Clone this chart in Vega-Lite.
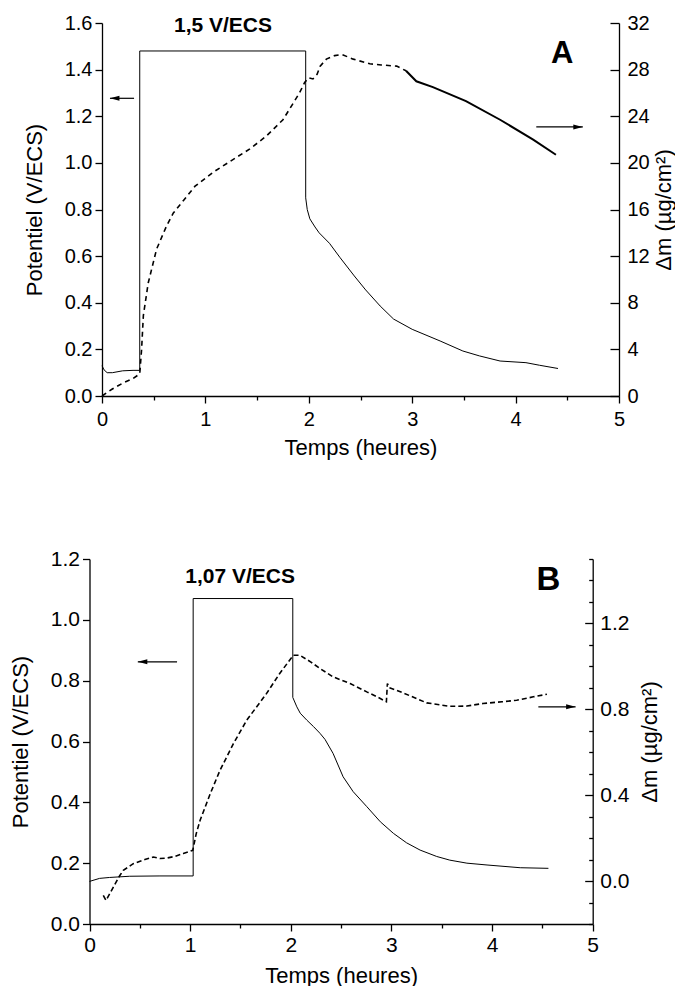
{
  "$schema": "https://vega.github.io/schema/vega-lite/v6.json",
  "padding": {"left": 9, "top": 13, "right": 0, "bottom": 0},
  "spacing": 90,
  "config": {
    "view": {"stroke": null},
    "font": "Liberation Sans",
    "axis": {"grid": false, "domainColor": "#000", "tickColor": "#000", "labelColor": "#000", "titleColor": "#000", "labelFont": "Liberation Sans", "titleFont": "Liberation Sans", "titleFontWeight": "normal", "domainWidth": 1.3, "tickWidth": 1.3, "labelOverlap": false, "labelFlush": false}
  },
  "datasets": {
    "A_pot": [
      {"i": 0, "t": 0, "v": 0.13}, {"i": 1, "t": 0.02, "v": 0.112}, {"i": 2, "t": 0.05, "v": 0.1}, {"i": 3, "t": 0.1, "v": 0.1},
      {"i": 4, "t": 0.2, "v": 0.108}, {"i": 5, "t": 0.3, "v": 0.11}, {"i": 6, "t": 0.365, "v": 0.11}, {"i": 7, "t": 0.365, "v": 1.48},
      {"i": 8, "t": 1.97, "v": 1.48}, {"i": 9, "t": 1.97, "v": 0.85}, {"i": 10, "t": 1.985, "v": 0.8}, {"i": 11, "t": 2.01, "v": 0.76},
      {"i": 12, "t": 2.06, "v": 0.725}, {"i": 13, "t": 2.1, "v": 0.7}, {"i": 14, "t": 2.2, "v": 0.655}, {"i": 15, "t": 2.3, "v": 0.595},
      {"i": 16, "t": 2.44, "v": 0.515}, {"i": 17, "t": 2.55, "v": 0.455}, {"i": 18, "t": 2.69, "v": 0.386}, {"i": 19, "t": 2.82, "v": 0.33},
      {"i": 20, "t": 3.0, "v": 0.286}, {"i": 21, "t": 3.27, "v": 0.236}, {"i": 22, "t": 3.49, "v": 0.193}, {"i": 23, "t": 3.65, "v": 0.172},
      {"i": 24, "t": 3.85, "v": 0.15}, {"i": 25, "t": 4.1, "v": 0.143}, {"i": 26, "t": 4.23, "v": 0.132}, {"i": 27, "t": 4.41, "v": 0.118}
    ],
    "A_mass_dash": [
      {"t": 0, "m": 0}, {"t": 0.1, "m": 0.6}, {"t": 0.2, "m": 1.1}, {"t": 0.3, "m": 1.5}, {"t": 0.365, "m": 1.9},
      {"t": 0.383, "m": 4.0}, {"t": 0.4, "m": 6.9}, {"t": 0.447, "m": 9.7}, {"t": 0.528, "m": 12.6}, {"t": 0.625, "m": 14.6},
      {"t": 0.69, "m": 15.7}, {"t": 0.79, "m": 16.8}, {"t": 0.9, "m": 18.0}, {"t": 1.075, "m": 19.2}, {"t": 1.27, "m": 20.3},
      {"t": 1.43, "m": 21.2}, {"t": 1.59, "m": 22.3}, {"t": 1.75, "m": 23.7}, {"t": 1.91, "m": 26.0}, {"t": 1.96, "m": 26.9},
      {"t": 2.0, "m": 27.3}, {"t": 2.04, "m": 27.2}, {"t": 2.08, "m": 27.6}, {"t": 2.11, "m": 28.3}, {"t": 2.17, "m": 28.9},
      {"t": 2.25, "m": 29.2}, {"t": 2.32, "m": 29.3}, {"t": 2.43, "m": 28.9}, {"t": 2.59, "m": 28.5}, {"t": 2.7, "m": 28.4},
      {"t": 2.85, "m": 28.3}, {"t": 2.94, "m": 27.9}
    ],
    "A_mass_solid": [
      {"t": 2.94, "m": 27.9}, {"t": 3.04, "m": 27.0}, {"t": 3.2, "m": 26.5}, {"t": 3.52, "m": 25.3},
      {"t": 3.85, "m": 23.7}, {"t": 4.17, "m": 22.0}, {"t": 4.39, "m": 20.7}
    ],
    "B_pot": [
      {"i": 0, "t": 0, "v": 0.14}, {"i": 1, "t": 0.1, "v": 0.15}, {"i": 2, "t": 0.2, "v": 0.153}, {"i": 3, "t": 0.4, "v": 0.157},
      {"i": 4, "t": 0.7, "v": 0.158}, {"i": 5, "t": 1.03, "v": 0.158}, {"i": 6, "t": 1.03, "v": 1.07}, {"i": 7, "t": 2.02, "v": 1.07},
      {"i": 8, "t": 2.02, "v": 0.745}, {"i": 9, "t": 2.06, "v": 0.714}, {"i": 10, "t": 2.094, "v": 0.693}, {"i": 11, "t": 2.16, "v": 0.67},
      {"i": 12, "t": 2.226, "v": 0.649}, {"i": 13, "t": 2.29, "v": 0.627}, {"i": 14, "t": 2.34, "v": 0.607}, {"i": 15, "t": 2.42, "v": 0.561},
      {"i": 16, "t": 2.52, "v": 0.484}, {"i": 17, "t": 2.62, "v": 0.435}, {"i": 18, "t": 2.755, "v": 0.386}, {"i": 19, "t": 2.89, "v": 0.336},
      {"i": 20, "t": 3.02, "v": 0.298}, {"i": 21, "t": 3.15, "v": 0.267}, {"i": 22, "t": 3.285, "v": 0.243}, {"i": 23, "t": 3.45, "v": 0.222},
      {"i": 24, "t": 3.58, "v": 0.21}, {"i": 25, "t": 3.75, "v": 0.2}, {"i": 26, "t": 3.95, "v": 0.194}, {"i": 27, "t": 4.28, "v": 0.185},
      {"i": 28, "t": 4.56, "v": 0.183}
    ],
    "B_mass": [
      {"t": 0.137, "m": -0.067}, {"t": 0.164, "m": -0.09}, {"t": 0.2, "m": -0.06}, {"t": 0.237, "m": -0.028}, {"t": 0.3, "m": 0.025},
      {"t": 0.336, "m": 0.05}, {"t": 0.435, "m": 0.081}, {"t": 0.55, "m": 0.1}, {"t": 0.634, "m": 0.112}, {"t": 0.7, "m": 0.105},
      {"t": 0.766, "m": 0.107}, {"t": 0.85, "m": 0.115}, {"t": 0.932, "m": 0.128}, {"t": 1.026, "m": 0.143}, {"t": 1.06, "m": 0.22},
      {"t": 1.099, "m": 0.283}, {"t": 1.2, "m": 0.407}, {"t": 1.297, "m": 0.516}, {"t": 1.43, "m": 0.64}, {"t": 1.562, "m": 0.749},
      {"t": 1.76, "m": 0.874}, {"t": 1.89, "m": 0.967}, {"t": 2.026, "m": 1.052}, {"t": 2.09, "m": 1.052}, {"t": 2.2, "m": 1.02},
      {"t": 2.29, "m": 0.99}, {"t": 2.42, "m": 0.951}, {"t": 2.59, "m": 0.92}, {"t": 2.755, "m": 0.881}, {"t": 2.85, "m": 0.86},
      {"t": 2.93, "m": 0.84}, {"t": 2.95, "m": 0.835}, {"t": 2.96, "m": 0.92}, {"t": 2.98, "m": 0.9}, {"t": 3.05, "m": 0.889},
      {"t": 3.2, "m": 0.86}, {"t": 3.35, "m": 0.83}, {"t": 3.58, "m": 0.814}, {"t": 3.75, "m": 0.815}, {"t": 3.91, "m": 0.827},
      {"t": 4.1, "m": 0.835}, {"t": 4.245, "m": 0.842}, {"t": 4.41, "m": 0.858}, {"t": 4.545, "m": 0.87}
    ],
    "A_arrows": [
      {"t1": 0.077, "t2": 0.31, "head": 0.077, "v": 1.277, "dir": "left"},
      {"t1": 4.2, "t2": 4.65, "head": 4.65, "v": 1.154, "dir": "right"}
    ],
    "B_arrows": [
      {"t1": 0.48, "t2": 0.87, "head": 0.48, "v": 0.862, "dir": "left"},
      {"t1": 4.46, "t2": 4.83, "head": 4.83, "v": 0.714, "dir": "right"}
    ]
  },
  "vconcat": [
    {
      "width": 517,
      "height": 373,
      "resolve": {"scale": {"y": "independent"}},
      "layer": [
        {
          "layer": [
            {
              "data": {"name": "A_pot"},
              "mark": {"type": "line", "strokeWidth": 1, "color": "#000"},
              "encoding": {
                "x": {"field": "t", "type": "quantitative", "scale": {"domain": [0, 5], "nice": false},
                  "axis": {"title": "Temps (heures)", "values": [0, 0.5, 1, 1.5, 2, 2.5, 3, 3.5, 4, 4.5, 5], "format": "~g",
                    "labelExpr": "datum.value % 1 === 0 ? datum.label : ''",
                    "tickSize": {"condition": {"test": "datum.value % 1 !== 0", "value": 4}, "value": 7},
                    "labelFontSize": 20, "titleFontSize": 22, "labelPadding": 6, "titlePadding": 8}},
                "y": {"field": "v", "type": "quantitative", "scale": {"domain": [0, 1.6], "nice": false},
                  "axis": {"title": "Potentiel (V/ECS)", "orient": "left", "values": [0, 0.1, 0.2, 0.3, 0.4, 0.5, 0.6, 0.7, 0.8, 0.9, 1.0, 1.1, 1.2, 1.3, 1.4, 1.5, 1.6], "format": ".1f",
                    "labelExpr": "abs(datum.value*5 - round(datum.value*5)) < 1e-6 ? datum.label : ''",
                    "tickSize": {"condition": {"test": "abs(datum.value*5 - round(datum.value*5)) < 1e-6", "value": 7}, "value": 4},
                    "labelFontSize": 20, "titleFontSize": 22, "labelPadding": 3, "titlePadding": 18}},
                "order": {"field": "i", "type": "quantitative"}
              }
            },
            {
              "data": {"name": "A_arrows"},
              "mark": {"type": "rule", "strokeWidth": 1.2, "color": "#000"},
              "encoding": {
                "x": {"field": "t1", "type": "quantitative"},
                "x2": {"field": "t2"},
                "y": {"field": "v", "type": "quantitative"}
              }
            },
            {
              "data": {"name": "A_arrows"},
              "mark": {"type": "point", "filled": true, "size": 40, "opacity": 1, "color": "#000"},
              "encoding": {
                "x": {"field": "head", "type": "quantitative"},
                "y": {"field": "v", "type": "quantitative"},
                "shape": {"field": "dir", "type": "nominal", "scale": {"domain": ["left", "right"], "range": ["M0,0L3,-0.8L3,0.8Z", "M0,0L-3,-0.8L-3,0.8Z"]}, "legend": null}
              }
            },
            {
              "data": {"values": [{"t": 1.17, "v": 1.585, "label": "1,5 V/ECS"}]},
              "mark": {"type": "text", "font": "Liberation Sans", "fontWeight": "bold", "fontSize": 21, "align": "center", "baseline": "middle", "color": "#000"},
              "encoding": {
                "x": {"field": "t", "type": "quantitative"},
                "y": {"field": "v", "type": "quantitative"},
                "text": {"field": "label"}
              }
            },
            {
              "data": {"values": [{"t": 4.45, "v": 1.466, "label": "A"}]},
              "mark": {"type": "text", "font": "Liberation Sans", "fontWeight": "bold", "fontSize": 31, "align": "center", "baseline": "middle", "color": "#000"},
              "encoding": {
                "x": {"field": "t", "type": "quantitative"},
                "y": {"field": "v", "type": "quantitative"},
                "text": {"field": "label"}
              }
            }
          ]
        },
        {
          "layer": [
            {
              "data": {"name": "A_mass_dash"},
              "mark": {"type": "line", "strokeWidth": 1.6, "strokeDash": [5, 4], "color": "#000"},
              "encoding": {
                "x": {"field": "t", "type": "quantitative"},
                "y": {"field": "m", "type": "quantitative", "scale": {"domain": [0, 32], "nice": false},
                  "axis": {"title": "Δm (µg/cm²)", "orient": "right", "values": [0, 1, 2, 3, 4, 5, 6, 7, 8, 9, 10, 11, 12, 13, 14, 15, 16, 17, 18, 19, 20, 21, 22, 23, 24, 25, 26, 27, 28, 29, 30, 31, 32], "format": "d",
                    "labelExpr": "datum.value % 4 === 0 ? datum.label : ''",
                    "tickSize": {"condition": {"test": "datum.value % 4 === 0", "value": -9}, "value": -5},
                    "labelFontSize": 20, "titleFontSize": 22, "labelPadding": 17, "titlePadding": 4, "titleAngle": 270, "titleBaseline": "top"}}
              }
            },
            {
              "data": {"name": "A_mass_solid"},
              "mark": {"type": "line", "strokeWidth": 2, "color": "#000"},
              "encoding": {
                "x": {"field": "t", "type": "quantitative"},
                "y": {"field": "m", "type": "quantitative"}
              }
            }
          ]
        }
      ]
    },
    {
      "width": 490.7,
      "height": 365,
      "resolve": {"scale": {"y": "independent"}},
      "layer": [
        {
          "layer": [
            {
              "data": {"name": "B_pot"},
              "mark": {"type": "line", "strokeWidth": 1, "color": "#000"},
              "encoding": {
                "x": {"field": "t", "type": "quantitative", "scale": {"domain": [0, 5], "nice": false, "range": [-12.5, 490.7]},
                  "axis": {"title": "Temps (heures)", "values": [0, 0.25, 0.5, 0.75, 1, 1.25, 1.5, 1.75, 2, 2.25, 2.5, 2.75, 3, 3.25, 3.5, 3.75, 4, 4.25, 4.5, 4.75, 5], "format": "~g",
                    "labelExpr": "datum.value % 1 === 0 ? datum.label : ''",
                    "tickSize": {"condition": {"test": "datum.value % 1 !== 0", "value": 4}, "value": 7},
                    "labelFontSize": 21, "titleFontSize": 22, "labelPadding": 3, "titlePadding": 10}},
                "y": {"field": "v", "type": "quantitative", "scale": {"domain": [0, 1.2], "nice": false},
                  "axis": {"title": "Potentiel (V/ECS)", "orient": "left", "offset": 12.5, "values": [0, 0.1, 0.2, 0.3, 0.4, 0.5, 0.6, 0.7, 0.8, 0.9, 1.0, 1.1, 1.2], "format": ".1f",
                    "labelExpr": "abs(datum.value*5 - round(datum.value*5)) < 1e-6 ? datum.label : ''",
                    "tickSize": {"condition": {"test": "abs(datum.value*5 - round(datum.value*5)) < 1e-6", "value": 7}, "value": 4},
                    "labelFontSize": 21, "titleFontSize": 22, "labelPadding": 3, "titlePadding": 18}},
                "order": {"field": "i", "type": "quantitative"}
              }
            },
            {
              "data": {"name": "B_arrows"},
              "mark": {"type": "rule", "strokeWidth": 1.2, "color": "#000"},
              "encoding": {
                "x": {"field": "t1", "type": "quantitative"},
                "x2": {"field": "t2"},
                "y": {"field": "v", "type": "quantitative"}
              }
            },
            {
              "data": {"name": "B_arrows"},
              "mark": {"type": "point", "filled": true, "size": 40, "opacity": 1, "color": "#000"},
              "encoding": {
                "x": {"field": "head", "type": "quantitative"},
                "y": {"field": "v", "type": "quantitative"},
                "shape": {"field": "dir", "type": "nominal", "scale": {"domain": ["left", "right"], "range": ["M0,0L3,-0.8L3,0.8Z", "M0,0L-3,-0.8L-3,0.8Z"]}, "legend": null}
              }
            },
            {
              "data": {"values": [{"t": 1.496, "v": 1.142, "label": "1,07 V/ECS"}]},
              "mark": {"type": "text", "font": "Liberation Sans", "fontWeight": "bold", "fontSize": 21, "align": "center", "baseline": "middle", "color": "#000"},
              "encoding": {
                "x": {"field": "t", "type": "quantitative"},
                "y": {"field": "v", "type": "quantitative"},
                "text": {"field": "label"}
              }
            },
            {
              "data": {"values": [{"t": 4.56, "v": 1.131, "label": "B"}]},
              "mark": {"type": "text", "font": "Liberation Sans", "fontWeight": "bold", "fontSize": 33, "align": "center", "baseline": "middle", "color": "#000"},
              "encoding": {
                "x": {"field": "t", "type": "quantitative"},
                "y": {"field": "v", "type": "quantitative"},
                "text": {"field": "label"}
              }
            }
          ]
        },
        {
          "layer": [
            {
              "data": {"name": "B_mass"},
              "mark": {"type": "line", "strokeWidth": 1.6, "strokeDash": [5, 3], "color": "#000"},
              "encoding": {
                "x": {"field": "t", "type": "quantitative"},
                "y": {"field": "m", "type": "quantitative", "scale": {"domain": [-0.2, 1.5], "nice": false},
                  "axis": {"title": "Δm (µg/cm²)", "orient": "right", "values": [-0.2, -0.1, 0, 0.1, 0.2, 0.3, 0.4, 0.5, 0.6, 0.7, 0.8, 0.9, 1.0, 1.1, 1.2, 1.3, 1.4, 1.5], "format": ".1f",
                    "labelExpr": "abs(datum.value*2.5 - round(datum.value*2.5)) < 1e-6 ? datum.label : ''",
                    "tickSize": {"condition": {"test": "abs(datum.value*2.5 - round(datum.value*2.5)) < 1e-6", "value": -8}, "value": -4},
                    "labelFontSize": 21, "titleFontSize": 22, "labelPadding": 15, "titlePadding": 11, "titleAngle": 270, "titleBaseline": "top"}}
              }
            }
          ]
        }
      ]
    }
  ]
}
